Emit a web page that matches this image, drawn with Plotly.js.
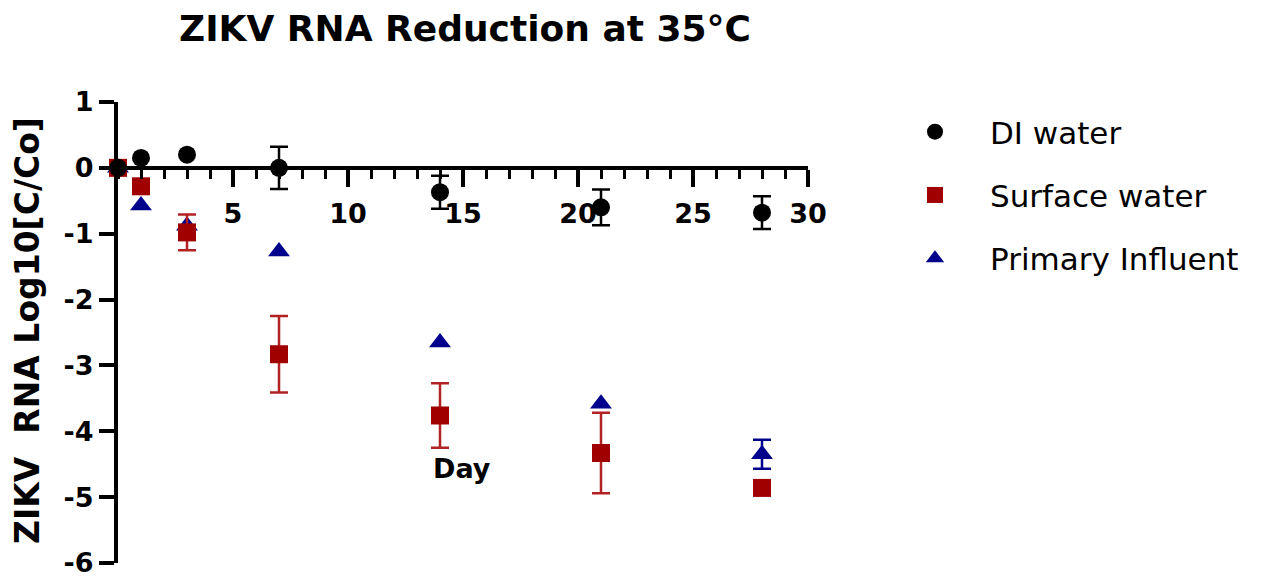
<!DOCTYPE html>
<html>
<head>
<meta charset="utf-8">
<script src="https://cdn.plot.ly/plotly-3.0.1.min.js"></script>
<style>html,body{margin:0;padding:0;background:#fff;}#chart{width:1277px;height:579px;}</style>
</head>
<body>
<div id="chart"></div>
<script>
// Days
const days = [0, 1, 3, 7, 14, 21, 28];

// DI water
const diWater = [0, 0.15, 0.2, 0.0, -0.37, -0.6, -0.68];
const diWaterErr = [NaN, NaN, NaN, 0.32, 0.25, 0.27, 0.25];

// Surface water
const surfaceWater = [0, -0.28, -0.98, -2.83, -3.76, -4.33, -4.86];
const surfaceWaterErr = [NaN, NaN, 0.27, 0.58, 0.49, 0.61, NaN];

// Primary influent
const primaryInfluent = [0, -0.57, -0.88, -1.27, -2.65, -3.58, -4.35];
const primaryInfluentErr = [NaN, NaN, NaN, NaN, NaN, NaN, 0.22];

const seriesNames = ["DI water", "Surface water", "Primary Influent"];
const xTickVals = [5, 10, 15, 20, 25, 30];
const yTickVals = [1, 0, -1, -2, -3, -4, -5, -6];

const FONT = "DejaVu Sans";
const RED = "#A00000";
const BLUE = "#00008C";

const traces = [
  {
    x: days, y: primaryInfluent, name: seriesNames[2], legendgroup: "c", legendrank: 3,
    type: "scatter", mode: "markers", cliponaxis: false,
    marker: {symbol: "triangle-up", size: 19, color: BLUE},
    error_y: {type: "data", array: primaryInfluentErr, visible: true, color: BLUE, thickness: 2.5, width: 9}
  },
  {
    x: days, y: surfaceWater, name: seriesNames[1], legendgroup: "b", legendrank: 2,
    type: "scatter", mode: "markers", cliponaxis: false,
    marker: {symbol: "square", size: 18, color: RED},
    error_y: {type: "data", array: surfaceWaterErr, visible: true, color: "#B22222", thickness: 2.5, width: 9}
  },
  {
    x: days, y: diWater, name: seriesNames[0], legendgroup: "a", legendrank: 1,
    type: "scatter", mode: "markers", cliponaxis: false,
    marker: {symbol: "circle", size: 18, color: "#000000"},
    error_y: {type: "data", array: diWaterErr, visible: true, color: "#000000", thickness: 2.5, width: 9}
  }
];

const layout = {
  width: 1277, height: 579,
  margin: {l: 118, r: 469, t: 102, b: 16, pad: 0},
  paper_bgcolor: "#ffffff", plot_bgcolor: "#ffffff",
  font: {family: FONT, color: "#000000"},
  title: {
    text: "ZIKV RNA Reduction at 35°C",
    font: {family: FONT, size: 36, weight: "bold", color: "#000"},
    x: 465 / 1277, xanchor: "center", xref: "container",
    y: 1 - 28 / 579, yanchor: "middle", yref: "container"
  },
  xaxis: {
    range: [0, 30], anchor: "free", position: 6 / 7,
    showgrid: false, zeroline: false,
    showline: true, linecolor: "#000", linewidth: 4,
    tickmode: "array", tickvals: xTickVals, ticktext: xTickVals.map(String),
    ticks: "outside", ticklen: 17, tickwidth: 4, tickcolor: "#000",
    ticklabelstandoff: 4,
    tickfont: {family: FONT, size: 27, weight: "bold", color: "#000"},
    minor: {tickmode: "linear", tick0: 0, dtick: 1, ticks: "outside", ticklen: 9, tickwidth: 3, tickcolor: "#000", showgrid: false}
  },
  yaxis: {
    range: [-6, 1], domain: [0, 1],
    showgrid: false, zeroline: false,
    showline: true, linecolor: "#000", linewidth: 4,
    tickmode: "array", tickvals: yTickVals, ticktext: yTickVals.map(String),
    ticks: "outside", ticklen: 15, tickwidth: 4, tickcolor: "#000",
    tickfont: {family: FONT, size: 27, weight: "bold", color: "#000"}
  },
  showlegend: true,
  legend: {
    x: (880 - 118) / 690, xanchor: "left", xref: "paper",
    y: (563 - 105) / 461, yanchor: "top",
    traceorder: "grouped", tracegroupgap: 20,
    itemwidth: 100,
    font: {family: FONT, size: 31, color: "#000"},
    bgcolor: "rgba(0,0,0,0)", borderwidth: 0
  },
  annotations: [
    {
      text: "ZIKV\u00a0 RNA Log10[C/Co]", textangle: -90,
      xref: "paper", yref: "paper",
      x: (27 - 118) / 690, y: (563 - 331) / 461,
      xanchor: "center", yanchor: "middle", showarrow: false,
      font: {family: FONT, size: 33, weight: "bold", color: "#000"}
    },
    {
      text: "Day",
      xref: "paper", yref: "paper",
      x: (462 - 118) / 690, y: (563 - 468) / 461,
      xanchor: "center", yanchor: "middle", showarrow: false,
      font: {family: FONT, size: 27, weight: "bold", color: "#000"}
    }
  ]
};

Plotly.newPlot("chart", traces, layout, {displayModeBar: false, staticPlot: true});
</script>
</body>
</html>
